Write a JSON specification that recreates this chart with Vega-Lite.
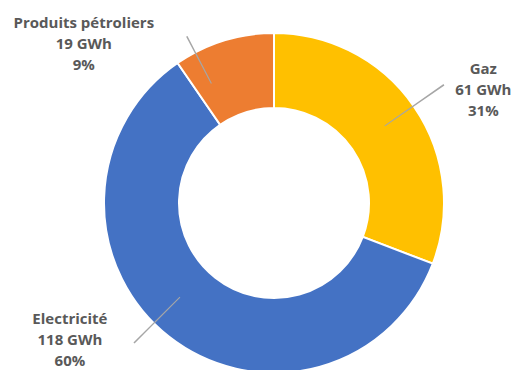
{
  "$schema": "https://vega.github.io/schema/vega-lite/v6.json",
  "width": 488,
  "height": 334,
  "autosize": {"type": "none"},
  "padding": {"left": 30, "top": 36, "right": 0, "bottom": 0},
  "background": "white",
  "view": {"stroke": null},
  "data": {
    "values": [
      {"cat": "Gaz", "GWh": 61, "pct": "31%", "order": 1, "label": "Gaz\n61 GWh\n31%"},
      {"cat": "Electricité", "GWh": 118, "pct": "60%", "order": 2, "label": "Electricité\n118 GWh\n60%"},
      {"cat": "Produits pétroliers", "GWh": 19, "pct": "9%", "order": 3, "label": "Produits pétroliers\n19 GWh\n9%"}
    ]
  },
  "transform": [
    {"stack": "GWh", "groupby": [], "sort": [{"field": "order", "order": "ascending"}], "as": ["s0", "s1"]}
  ],
  "encoding": {
    "theta": {"field": "GWh", "type": "quantitative", "stack": true},
    "order": {"field": "order", "type": "quantitative"},
    "color": {
      "field": "cat",
      "type": "nominal",
      "scale": {"domain": ["Gaz", "Electricité", "Produits pétroliers"], "range": ["#FFC000", "#4472C4", "#ED7D31"]},
      "legend": null
    }
  },
  "layer": [
    {"mark": {"type": "arc", "innerRadius": 95, "outerRadius": 170, "stroke": "white", "strokeWidth": 2}},
    {
      "mark": {"type": "arc", "innerRadius": 135, "outerRadius": 207, "thetaOffset": 0.959, "theta2Offset": -0.9687},
      "encoding": {
        "theta": {"field": "s0", "type": "quantitative", "stack": null},
        "theta2": {"field": "s1"},
        "color": {"value": "#a6a6a6"},
        "detail": {"field": "cat"},
        "opacity": {"condition": {"test": "datum.cat === 'Gaz'", "value": 1}, "value": 0}
      }
    },
    {
      "mark": {"type": "arc", "innerRadius": 133, "outerRadius": 198, "thetaOffset": 1.9873, "theta2Offset": -1.7493},
      "encoding": {
        "theta": {"field": "s0", "type": "quantitative", "stack": null},
        "theta2": {"field": "s1"},
        "color": {"value": "#a6a6a6"},
        "detail": {"field": "cat"},
        "opacity": {"condition": {"test": "datum.cat === 'Electricité'", "value": 1}, "value": 0}
      }
    },
    {
      "mark": {"type": "arc", "innerRadius": 135, "outerRadius": 188, "thetaOffset": 0.1167, "theta2Offset": -0.4782},
      "encoding": {
        "theta": {"field": "s0", "type": "quantitative", "stack": null},
        "theta2": {"field": "s1"},
        "color": {"value": "#a6a6a6"},
        "detail": {"field": "cat"},
        "opacity": {"condition": {"test": "datum.cat === 'Produits pétroliers'", "value": 1}, "value": 0}
      }
    },
    {
      "mark": {"type": "text", "radius": 238, "thetaOffset": 0.107, "dy": -21, "lineBreak": "\n", "font": "Open Sans", "fontWeight": "bold", "fontSize": 15, "lineHeight": 21, "align": "center", "baseline": "middle"},
      "encoding": {
        "text": {"field": "label"},
        "color": {"value": "#595959"},
        "detail": {"field": "cat"},
        "opacity": {"condition": {"test": "datum.cat === 'Gaz'", "value": 1}, "value": 0}
      }
    },
    {
      "mark": {"type": "text", "radius": 246, "thetaOffset": 0.312, "dy": -21, "lineBreak": "\n", "font": "Open Sans", "fontWeight": "bold", "fontSize": 15, "lineHeight": 21, "align": "center", "baseline": "middle"},
      "encoding": {
        "text": {"field": "label"},
        "color": {"value": "#595959"},
        "detail": {"field": "cat"},
        "opacity": {"condition": {"test": "datum.cat === 'Electricité'", "value": 1}, "value": 0}
      }
    },
    {
      "mark": {"type": "text", "radius": 248, "thetaOffset": -0.5725, "dy": -21, "lineBreak": "\n", "font": "Open Sans", "fontWeight": "bold", "fontSize": 15, "lineHeight": 21, "align": "center", "baseline": "middle"},
      "encoding": {
        "text": {"field": "label"},
        "color": {"value": "#595959"},
        "detail": {"field": "cat"},
        "opacity": {"condition": {"test": "datum.cat === 'Produits pétroliers'", "value": 1}, "value": 0}
      }
    }
  ]
}
